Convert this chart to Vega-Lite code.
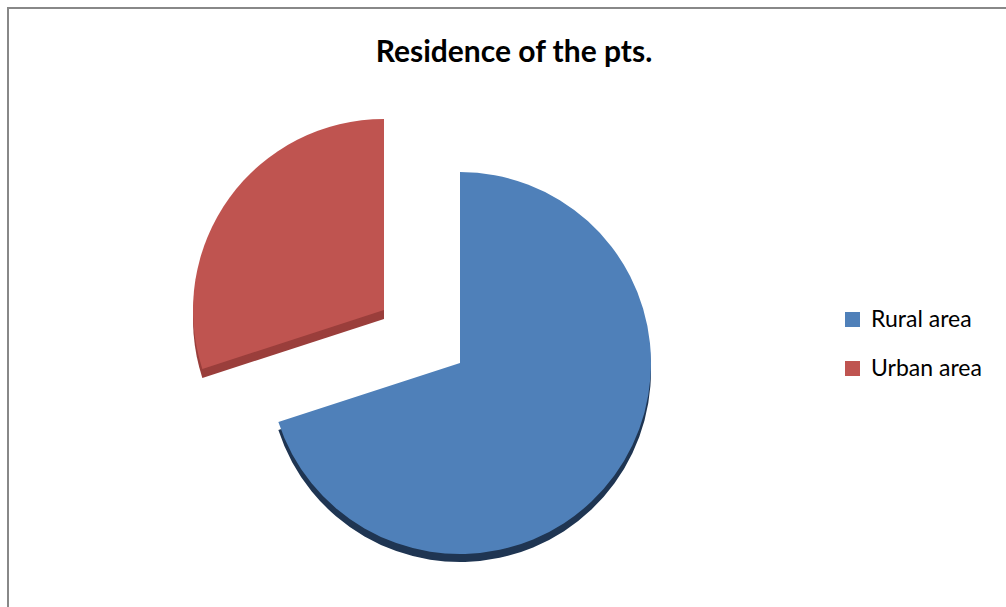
{
  "$schema": "https://vega.github.io/schema/vega-lite/v6.json",
  "width": 1006,
  "height": 607,
  "autosize": {"type": "none"},
  "padding": {"left": 8, "top": 8, "right": 0, "bottom": 0},
  "background": "white",
  "view": {"stroke": "#888888", "strokeWidth": 2},
  "config": {"view": {"stroke": "#888888", "strokeWidth": 2}},
  "title": {"text": "Residence of the pts.", "font": "Lato", "fontSize": 30, "fontWeight": "bold", "color": "#000000", "anchor": "middle", "frame": "group", "dx": 3, "dy": 64},
  "data": {"values": [
    {"residence": "Rural area", "percent": 70},
    {"residence": "Urban area", "percent": 30}
  ]},
  "encoding": {
    "theta": {"field": "percent", "type": "quantitative", "stack": true}
  },
  "layer": [
    {
      "mark": {"type": "arc", "radius": 191, "x": 452, "y": 355,
        "xOffset": {"expr": "datum.residence == 'Urban area' ? -76 : 0"},
        "yOffset": {"expr": "datum.residence == 'Urban area' ? -44 : 8"},
        "fill": {"expr": "datum.residence == 'Urban area' ? '#9A3E3B' : '#1F3552'"}
      }
    },
    {
      "mark": {"type": "arc", "radius": 191, "x": 452, "y": 355,
        "xOffset": {"expr": "datum.residence == 'Urban area' ? -76 : 0"},
        "yOffset": {"expr": "datum.residence == 'Urban area' ? -53 : 0"}
      },
      "encoding": {
        "color": {"field": "residence", "type": "nominal",
          "scale": {"domain": ["Rural area", "Urban area"], "range": ["#4F80B9", "#BF5450"]},
          "legend": {"title": null, "orient": "none", "legendX": 833, "legendY": 300, "symbolType": "square", "symbolSize": 225, "symbolStrokeWidth": 0, "labelFont": "Lato", "labelFontSize": 23, "labelColor": "#000000", "rowPadding": 25, "labelOffset": 7}
        }
      }
    }
  ]
}
